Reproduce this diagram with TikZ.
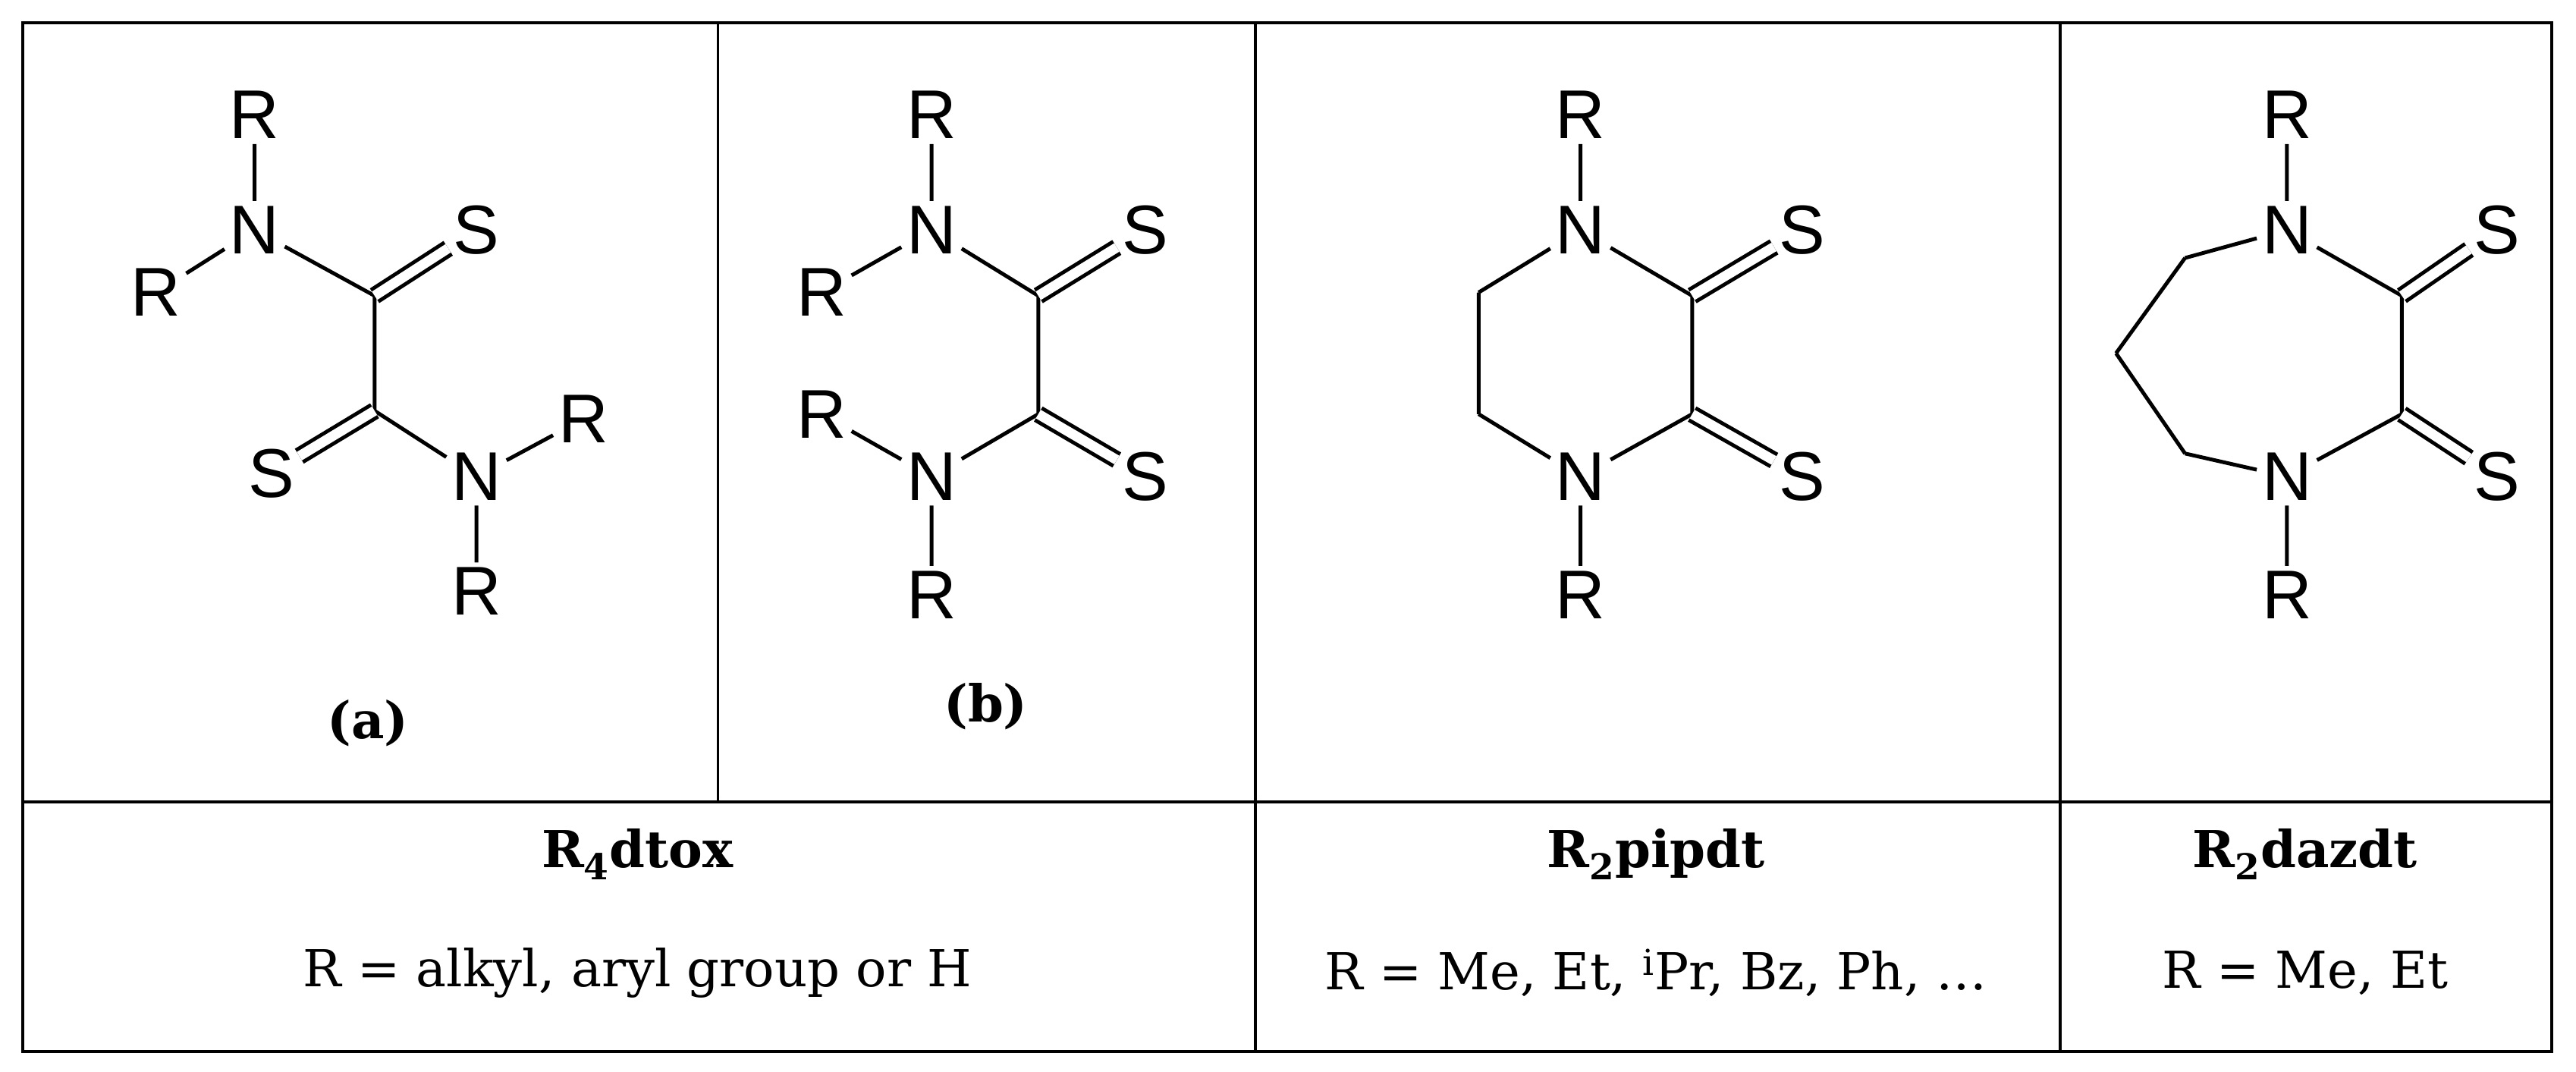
\documentclass[tikz,border=0pt]{standalone}
\usepackage{fontspec}
\setmainfont{DejaVu Serif}
\newfontfamily\atomfont{Liberation Sans}
\begin{document}
\begin{tikzpicture}[x=1pt,y=-1pt,
  atom/.style={font=\atomfont\fontsize{42}{48}\selectfont,inner sep=3pt},
  bond/.style={line width=2.3pt},
  dbl/.style={line width=2.3pt,double,double distance=6pt},
  lab/.style={font=\fontsize{31}{36}\selectfont},
  blab/.style={font=\bfseries\fontsize{31}{36}\selectfont},
  frame/.style={line width=1.8pt}]
\useasboundingbox (0,0) rectangle (1568,652);
\draw[frame] (14,14) rectangle (1553,640);
\draw[frame] (14,488) -- (1553,488);
\draw[frame] (437,14) -- (437,488);
\draw[frame] (764,14) -- (764,640);
\draw[frame] (1254,14) -- (1254,640);
% (a)
\node[atom] (aN1) at (155,140) {N};
\node[atom] (aR1) at (155,70) {R};
\node[atom] (aR2) at (95,178) {R};
\coordinate (aC1) at (228,180);
\node[atom] (aS1) at (290,140) {S};
\coordinate (aC2) at (228,250);
\node[atom] (aS2) at (165,288) {S};
\node[atom] (aN2) at (290,290) {N};
\node[atom] (aR3) at (355,255) {R};
\node[atom] (aR4) at (290,360) {R};
\draw[bond] (aR1)--(aN1) (aR2)--(aN1) (aN1)--(aC1) (aC1)--(aC2) (aC2)--(aN2) (aN2)--(aR3) (aN2)--(aR4);
\draw[dbl] (aC1)--(aS1) (aC2)--(aS2);
\node[blab] (la) at (224,440) {(a)};
% (b)
\node[atom] (bN1) at (567,140) {N};
\node[atom] (bR1) at (567,70) {R};
\node[atom] (bR2) at (500,178) {R};
\coordinate (bC1) at (632,180);
\node[atom] (bS1) at (697,140) {S};
\coordinate (bC2) at (632,252);
\node[atom] (bS2) at (697,290) {S};
\node[atom] (bN2) at (567,290) {N};
\node[atom] (bR3) at (500,252) {R};
\node[atom] (bR4) at (567,362) {R};
\draw[bond] (bR1)--(bN1) (bR2)--(bN1) (bN1)--(bC1) (bC1)--(bC2) (bC2)--(bN2) (bN2)--(bR3) (bN2)--(bR4);
\draw[dbl] (bC1)--(bS1) (bC2)--(bS2);
\node[blab] (lb) at (600,430) {(b)};
% (c)
\node[atom] (cN1) at (962,140) {N};
\node[atom] (cR1) at (962,70) {R};
\coordinate (cC1) at (1030,180);
\node[atom] (cS1) at (1097,140) {S};
\coordinate (cC2) at (1030,252);
\node[atom] (cS2) at (1097,290) {S};
\node[atom] (cN2) at (962,290) {N};
\node[atom] (cR2) at (962,362) {R};
\coordinate (cA) at (900,178);
\coordinate (cB) at (900,252);
\draw[bond] (cR1)--(cN1) (cN1)--(cC1) (cC1)--(cC2) (cC2)--(cN2) (cN2)--(cR2) (cN1)--(cA) (cA)--(cB) (cB)--(cN2);
\draw[dbl] (cC1)--(cS1) (cC2)--(cS2);
% (d)
\node[atom] (dN1) at (1392,140) {N};
\node[atom] (dR1) at (1392,70) {R};
\coordinate (dC1) at (1462,180);
\node[atom] (dS1) at (1520,140) {S};
\coordinate (dC2) at (1462,252);
\node[atom] (dS2) at (1520,290) {S};
\node[atom] (dN2) at (1392,290) {N};
\node[atom] (dR2) at (1392,362) {R};
\coordinate (dA) at (1330,157);
\coordinate (dB) at (1288,215);
\coordinate (dC) at (1330,276);
\draw[bond] (dR1)--(dN1) (dN1)--(dC1) (dC1)--(dC2) (dC2)--(dN2) (dN2)--(dR2) (dN1)--(dA) (dA)--(dB) (dB)--(dC) (dC)--(dN2);
\draw[dbl] (dC1)--(dS1) (dC2)--(dS2);
% bottom texts
\node[blab] (t1) at (388,520) {R\textsubscript{4}dtox};
\node[lab] (t2) at (388,592) {R = alkyl, aryl group or H};
\node[blab] (t3) at (1008,520) {R\textsubscript{2}pipdt};
\node[lab] (t4) at (1008,592) {R = Me, Et, \textsuperscript{i}Pr, Bz, Ph, …};
\node[blab] (t5) at (1403,520) {R\textsubscript{2}dazdt};
\node[lab] (t6) at (1403,592) {R = Me, Et};
\end{tikzpicture}
\end{document}
